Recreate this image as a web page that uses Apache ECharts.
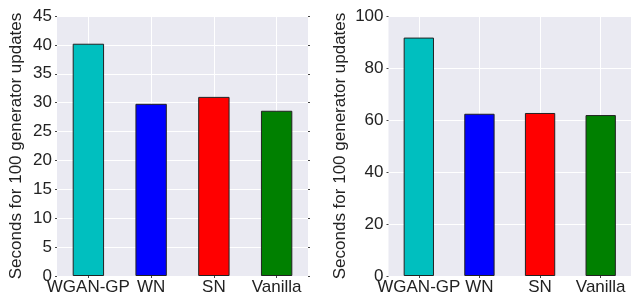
<!DOCTYPE html>
<html>
<head>
<meta charset="utf-8">
<script src="https://cdn.jsdelivr.net/npm/echarts@6/dist/echarts.min.js"></script>
<style>
  html, body { margin: 0; padding: 0; background: #fff; }
  #chart { width: 631px; height: 299px; }
</style>
</head>
<body>
<div id="chart"></div>
<script>
// --- data ---
const categories = ['WGAN-GP', 'WN', 'SN', 'Vanilla'];
const leftSeconds = [40.2, 29.8, 31.0, 28.6];
const rightSeconds = [91.7, 62.4, 62.7, 61.9];
const barColors = ['#00BFBF', '#0000FF', '#FF0000', '#008000'];
const yName = 'Seconds for 100 generator updates';

// --- shared styles ---
const FONT = "'Liberation Sans', Arial, sans-serif";
const TXT = '#222';
const gridLine = { show: true, lineStyle: { color: '#fff', width: 1 } };
const smallTick = { show: true, length: 2, lineStyle: { color: '#444', width: 1 } };

// hidden 9-slot axis so the vertical grid lines sit on the bar centres
const halfSlots = Array.from({ length: 9 }, () => '');
function centreLines(gridIndex) {
  return {
    type: 'category', gridIndex, data: halfSlots, boundaryGap: false,
    axisLine: { show: false }, axisTick: { show: false }, axisLabel: { show: false },
    splitLine: { ...gridLine, interval: (i) => i % 2 === 1 },
  };
}

function catAxis(gridIndex) {
  return {
    type: 'category', gridIndex, data: categories,
    axisLine: { show: false },
    axisTick: { ...smallTick, alignWithLabel: true },
    splitLine: { show: false },
    axisLabel: { color: TXT, fontSize: 17, fontFamily: FONT, margin: 3, interval: 0 },
  };
}

function valAxis(gridIndex, max, interval, nameGap) {
  return {
    type: 'value', gridIndex, min: 0, max, interval,
    name: yName, nameLocation: 'middle', nameGap,
    nameTextStyle: { color: TXT, fontSize: 17, fontFamily: FONT },
    axisLine: { show: false }, axisTick: smallTick,
    axisLabel: { color: TXT, fontSize: 17, fontFamily: FONT, margin: 5 },
    splitLine: gridLine,
  };
}

function rightTicks(gridIndex, max, interval) {
  return {
    type: 'value', gridIndex, min: 0, max, interval, position: 'right',
    axisLine: { show: false }, axisTick: smallTick,
    axisLabel: { show: false }, splitLine: { show: false },
  };
}

function bars(values, xAxisIndex, yAxisIndex) {
  return {
    type: 'bar', xAxisIndex, yAxisIndex, barWidth: '50%',
    data: values.map((v, i) => ({ value: v, itemStyle: { color: barColors[i] } })),
    itemStyle: { borderColor: '#222', borderWidth: 1 },
    emphasis: { disabled: true },
  };
}

const chart = echarts.init(document.getElementById('chart'), null, { renderer: 'canvas' });
chart.setOption({
  animation: false,
  backgroundColor: '#fff',
  grid: [
    { left: 57, top: 16, width: 251, height: 260, show: true, backgroundColor: '#EAEAF2', borderWidth: 0 },
    { left: 388.5, top: 16, width: 244, height: 260, show: true, backgroundColor: '#EAEAF2', borderWidth: 0 },
  ],
  xAxis: [catAxis(0), centreLines(0), catAxis(1), centreLines(1)],
  yAxis: [valAxis(0, 45, 5, 32), rightTicks(0, 45, 5), valAxis(1, 100, 20, 40)],
  series: [bars(leftSeconds, 0, 0), bars(rightSeconds, 2, 2)],
});
</script>
</body>
</html>
